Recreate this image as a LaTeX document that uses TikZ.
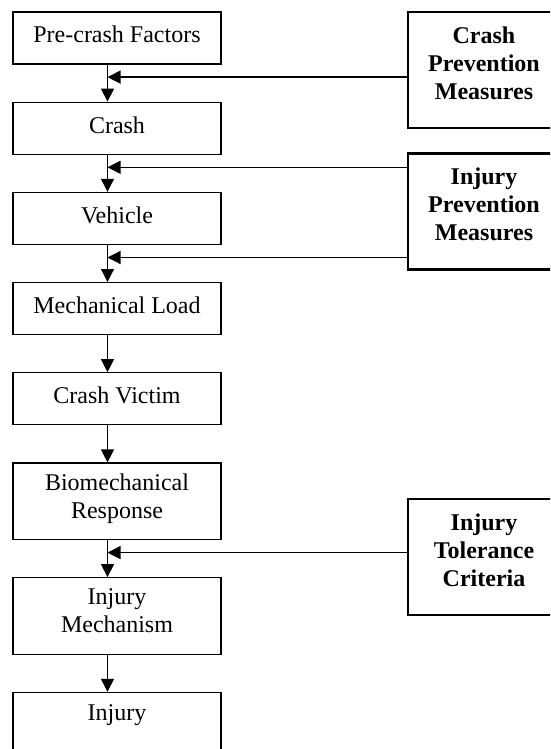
\documentclass[tikz,border=0pt]{standalone}
\usepackage{fontspec}
\setmainfont{Liberation Serif}
\usepackage{tikz}
\usetikzlibrary{arrows.meta,positioning}

\begin{document}
\begin{tikzpicture}[
    x=1pt,y=1pt,
    >={Triangle[length=13pt,width=13pt]},
    stage/.style={draw,line width=1.2pt,minimum width=208pt,minimum height=52pt,
      inner sep=0pt,align=center,text depth=7pt,font=\fontsize{24}{28}\selectfont},
    tallstage/.style={stage,minimum height=76.5pt,text depth=10pt},
    measure/.style={draw,line width=2.4pt,minimum width=152pt,minimum height=116pt,
      inner sep=0pt,align=center,text depth=14pt,
      font=\fontsize{24}{28}\selectfont\bfseries},
    flow/.style={->,line width=1.2pt},
    feed/.style={->,line width=1.2pt}
  ]
  \clip (0,0) rectangle (550,-749);
  \coordinate (spine) at (107.5,0);

  % main chain
  \node[stage] (pre) at (117,-38) {Pre-crash Factors};
  \node[stage,below=37pt of pre] (crash) {Crash};
  \node[stage,below=37pt of crash] (vehicle) {Vehicle};
  \node[stage,below=37pt of vehicle] (load) {Mechanical Load};
  \node[stage,below=37pt of load] (victim) {Crash Victim};
  \node[tallstage,below=37pt of victim] (response) {Biomechanical\\Response};
  \node[tallstage,below=37pt of response] (mechanism) {Injury\\Mechanism};
  \node[tallstage,text depth=36pt,below=37pt of mechanism] (injury) {Injury};

  \foreach \a/\b in {pre/crash,crash/vehicle,vehicle/load,load/victim,
      victim/response,response/mechanism,mechanism/injury}
    \draw[flow] (\a.south -| spine) -- (\b.north -| spine);

  % measures on the right
  \node[measure] (crashprev) at (484,-70) {Crash\\Prevention\\Measures};
  \node[measure] (injuryprev) at (484,-211.5) {Injury\\Prevention\\Measures};
  \node[measure] (tolerance) at (484,-557) {Injury\\Tolerance\\Criteria};

  \coordinate (j1) at ([yshift=-12.5pt]pre.south -| spine);
  \coordinate (j2) at ([yshift=-12.5pt]crash.south -| spine);
  \coordinate (j3) at ([yshift=-12.5pt]vehicle.south -| spine);
  \coordinate (j4) at ([yshift=-12.5pt]response.south -| spine);

  \draw[feed] (crashprev.west |- j1) -- (j1);
  \draw[feed] (injuryprev.west |- j2) -- (j2);
  \draw[feed] (injuryprev.west |- j3) -- (j3);
  \draw[feed] (tolerance.west |- j4) -- (j4);
\end{tikzpicture}
\end{document}
